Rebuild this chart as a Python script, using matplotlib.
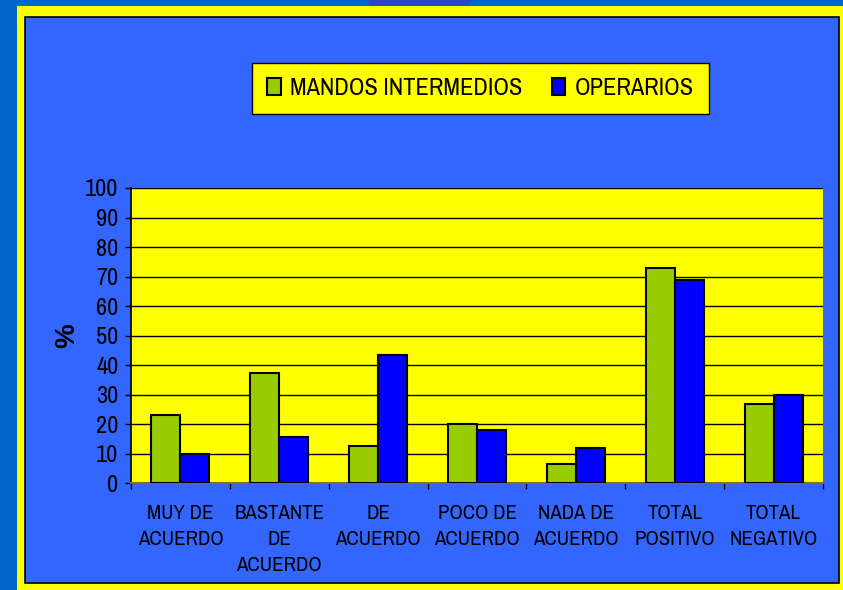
import numpy as np
import matplotlib
matplotlib.use('Agg')
import matplotlib.pyplot as plt
from matplotlib.patches import Rectangle, Polygon

plt.rcParams['font.family'] = ['Archivo Narrow', 'Liberation Sans', 'DejaVu Sans']

# Data
categories = ['MUY DE\nACUERDO', 'BASTANTE\nDE\nACUERDO', 'DE\nACUERDO',
              'POCO DE\nACUERDO', 'NADA DE\nACUERDO', 'TOTAL\nPOSITIVO', 'TOTAL\nNEGATIVO']
mandos = [23.2, 37.2, 12.6, 20.1, 6.7, 73.0, 26.8]
operarios = [9.8, 15.6, 43.3, 17.9, 12.1, 68.7, 29.8]
yticks = list(range(0, 101, 10))

W, H = 843, 590
fig = plt.figure(figsize=(W / 100, H / 100), dpi=100, facecolor='#0066CC')

# background decoration and frames
fig.patches.append(Polygon([(366 / W, 1), (473 / W, 1), (468 / W, 1 - 6 / H), (371 / W, 1 - 6 / H)],
                           closed=True, transform=fig.transFigure, facecolor='#2A46C0',
                           edgecolor='none', zorder=-3))
fig.patches.append(Rectangle((17 / W, 0), 1 - 17 / W, 1 - 6 / H, transform=fig.transFigure,
                             facecolor='#FFFF00', edgecolor='none', zorder=-2))
fig.patches.append(Rectangle((25 / W, 7 / H), (838.5 - 25) / W, (583 - 17) / H,
                             transform=fig.transFigure, facecolor='#3366FF',
                             edgecolor='black', linewidth=1.2, zorder=-1))

ax = fig.add_axes([131 / W, (H - 483.3) / H, 692 / W, (483.3 - 188) / H])
ax.set_zorder(2)
ax.set_facecolor('#FFFF00')

x = np.arange(len(categories))
bw = 0.293
ax.bar(x - bw / 2, mandos, bw, color='#99CC00', edgecolor='black', linewidth=1.5,
       label='MANDOS INTERMEDIOS', zorder=3)
ax.bar(x + bw / 2, operarios, bw, color='#0000FF', edgecolor='black', linewidth=1.5,
       label='OPERARIOS', zorder=3)

ax.set_xlim(-0.5, len(categories) - 0.5)
ax.set_ylim(0, 100)
ax.set_yticks(yticks)
ax.set_yticklabels([str(v) for v in yticks], fontsize=17.5)
ax.tick_params(axis='y', length=4, width=1, pad=5, colors='black')

ax.set_xticks(np.arange(len(categories) + 1) - 0.5)
ax.set_xticklabels([])
ax.tick_params(axis='x', which='major', length=4.5, width=1, direction='out')
ax.set_xticks(x, minor=True)
ax.set_xticklabels(categories, minor=True, fontsize=15, linespacing=1.45)
ax.tick_params(axis='x', which='minor', length=0, pad=15)

ax.yaxis.grid(True, color='black', linewidth=1)
ax.set_axisbelow(True)
for s in ['top', 'right']:
    ax.spines[s].set_visible(False)
ax.spines['left'].set_color('black')
ax.spines['left'].set_linewidth(1.2)
ax.spines['bottom'].set_color('#777700')
ax.spines['bottom'].set_linewidth(1.5)

ax.set_ylabel('%', fontsize=20, fontweight='bold',
              family=['Liberation Sans', 'DejaVu Sans'])
ax.yaxis.set_label_coords(-0.074, 0.5)

leg = fig.legend(loc='center', bbox_to_anchor=((258 + 703) / 2 / W, 1 - (63 + 114) / 2 / H),
                 ncol=2, fontsize=17.5, frameon=True, fancybox=False,
                 handlelength=0.55, handleheight=0.7, handletextpad=0.4,
                 columnspacing=1.2, borderpad=0.62, borderaxespad=0)
leg.get_frame().set_facecolor('#FFFF00')
leg.get_frame().set_edgecolor('black')
leg.get_frame().set_linewidth(1)
leg.get_frame().set_alpha(1)

fig.savefig('out.png', dpi=100, facecolor=fig.get_facecolor())
